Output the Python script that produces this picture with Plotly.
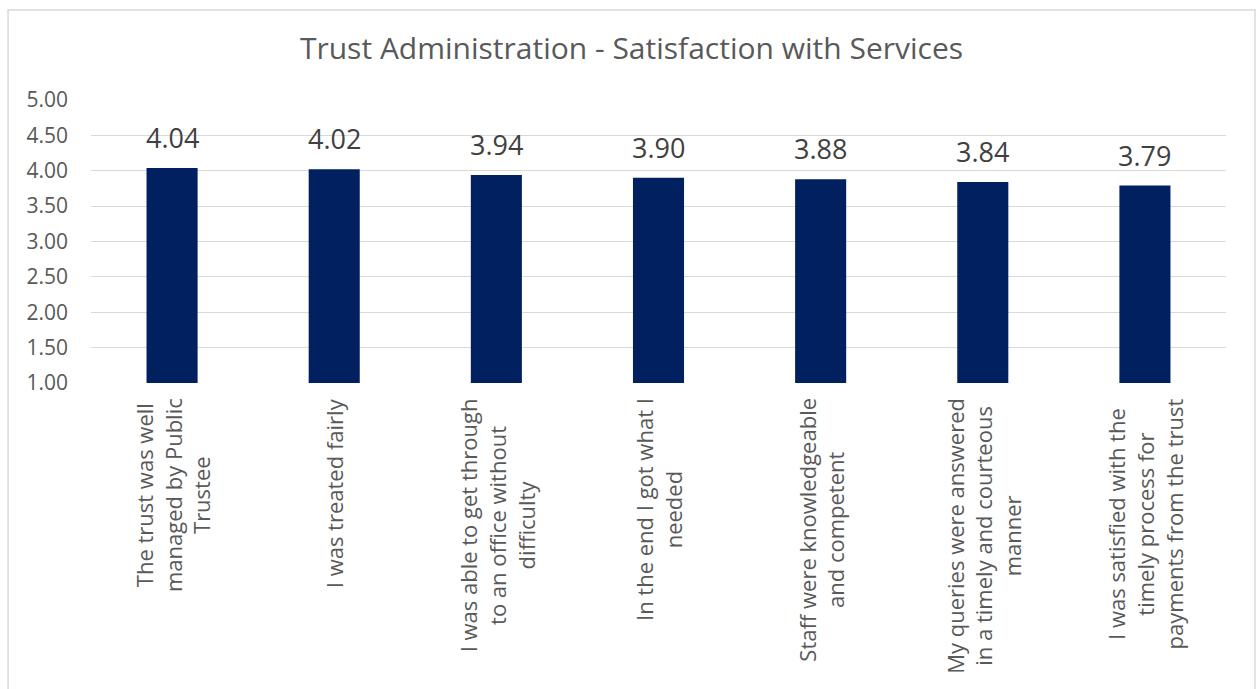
import plotly.graph_objects as go

categories = [
    "The trust was well<br>managed by Public<br>Trustee",
    "I was treated fairly",
    "I was able to get through<br>to an office without<br>difficulty",
    "In the end I got what I<br>needed",
    "Staff were knowledgeable<br>and competent",
    "My queries were answered<br>in a timely and courteous<br>manner",
    "I was satisfied with the<br>timely process for<br>payments from the trust",
]
scores = [4.04, 4.02, 3.94, 3.90, 3.88, 3.84, 3.79]
y_ticks = [1.0, 1.5, 2.0, 2.5, 3.0, 3.5, 4.0, 4.5, 5.0]

FONT = "Open Sans, Noto Sans, DejaVu Sans, sans-serif"
TEXT_GREY = "#595959"

fig = go.Figure(
    go.Bar(
        x=categories,
        y=scores,
        marker=dict(color="#002060", line=dict(width=0)),
        width=0.315,
    )
)

annotations = []
# value labels above each bar
for cat, val in zip(categories, scores):
    annotations.append(
        dict(
            x=cat, y=val, xref="x", yref="y",
            text=f"{val:.2f}",
            showarrow=False,
            yanchor="bottom",
            yshift=10,
            font=dict(size=27, color="#404040", family=FONT),
        )
    )
# rotated, centre-aligned category labels under the axis
for cat in categories:
    annotations.append(
        dict(
            x=cat, y=0, xref="x", yref="paper",
            text=cat,
            showarrow=False,
            textangle=-90,
            align="center",
            xanchor="center",
            yanchor="top",
            yshift=-13,
            font=dict(size=22, color=TEXT_GREY, family=FONT),
        )
    )

fig.update_layout(
    width=1258,
    height=689,
    margin=dict(l=91, r=32, t=100, b=306),
    paper_bgcolor="white",
    plot_bgcolor="white",
    font=dict(family=FONT, color=TEXT_GREY),
    title=dict(
        text="Trust Administration - Satisfaction with Services",
        x=0.502,
        xref="container",
        xanchor="center",
        y=0.93,
        yanchor="middle",
        font=dict(size=30, color=TEXT_GREY, family=FONT),
    ),
    showlegend=False,
    xaxis=dict(
        showticklabels=False,
        showgrid=False,
        showline=False,
        ticks="",
    ),
    yaxis=dict(
        range=[1, 5],
        tickvals=y_ticks,
        tickformat=".2f",
        tickfont=dict(size=21, color=TEXT_GREY),
        gridcolor="#d9d9d9",
        gridwidth=1,
        zeroline=False,
        showline=False,
        ticks="",
        ticklabelstandoff=22,
    ),
    annotations=annotations,
    shapes=[
        dict(
            type="rect",
            xref="paper",
            yref="paper",
            x0=-0.0731,
            x1=1.0255,
            y0=-1.2,
            y1=1.318,
            line=dict(color="#d9d9d9", width=1.5),
            fillcolor="rgba(0,0,0,0)",
            layer="below",
        )
    ],
)

fig.write_html("out.html")
